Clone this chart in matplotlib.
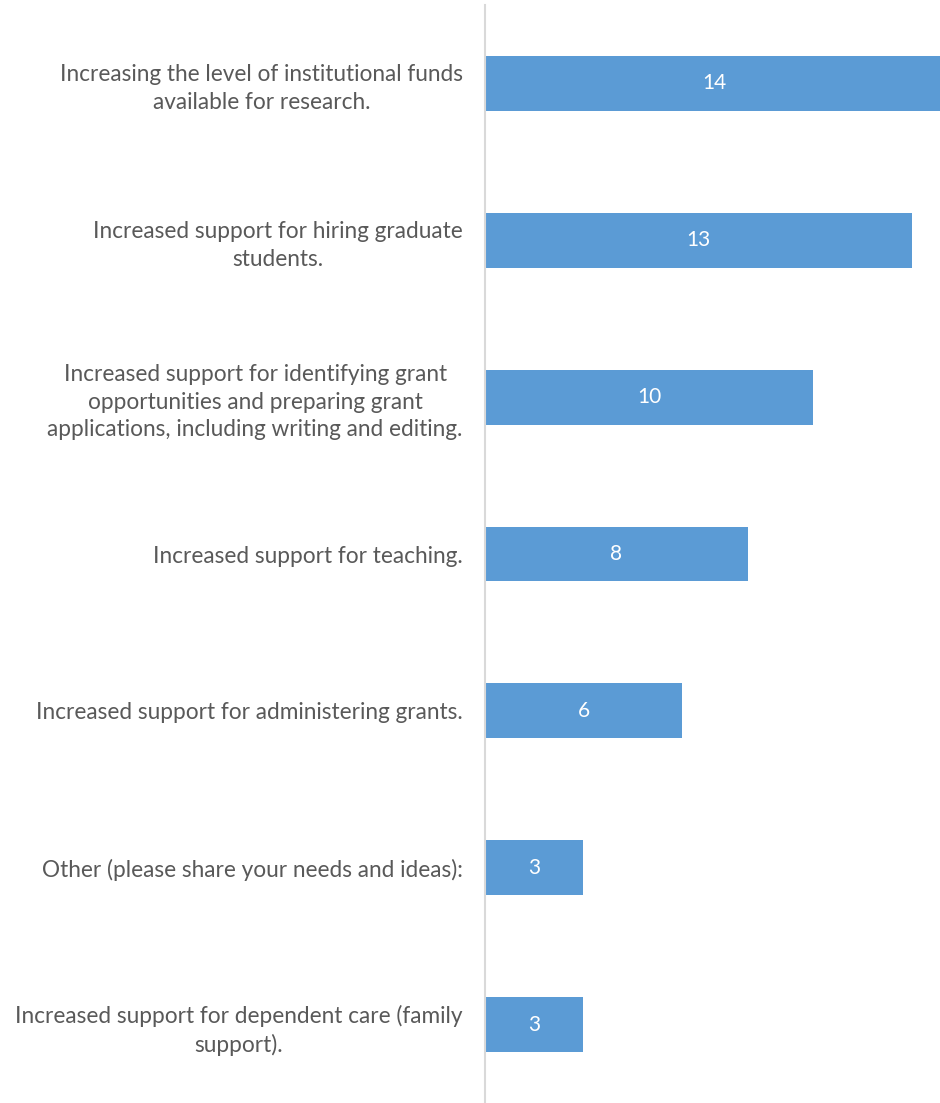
import matplotlib
matplotlib.use("Agg")
import matplotlib.pyplot as plt

categories = [
    "Increasing the level of institutional funds\navailable for research.",
    "Increased support for hiring graduate\nstudents.",
    "Increased support for identifying grant\nopportunities and preparing grant\napplications, including writing and editing.",
    "Increased support for teaching.",
    "Increased support for administering grants.",
    "Other (please share your needs and ideas):",
    "Increased support for dependent care (family\nsupport).",
]
values = [14, 13, 10, 8, 6, 3, 3]

plt.rcParams['font.family'] = ['Lato', 'DejaVu Sans']

W, H = 940, 1103
fig = plt.figure(figsize=(W / 100, H / 100), dpi=100)
ax = fig.add_axes([485 / W, 0, 1 - 485 / W, 1 - 5 / H])

ypos = list(range(len(categories)))
bars = ax.barh(ypos, values, height=0.35, color='#5B9BD5', zorder=2)
ax.set_ylim(len(categories) - 0.5, -0.5)
ax.set_xlim(0, 13.86)

for b, v in zip(bars, values):
    ax.text(v / 2, b.get_y() + b.get_height() / 2, str(v), ha='center', va='center',
            color='white', fontsize=15, clip_on=False)

ax.set_yticks(ypos)
ax.set_yticklabels(categories, fontsize=16.3, color='#595959', multialignment='center',
                   linespacing=1.38)
ax.tick_params(axis='y', length=0, pad=16)
ax.set_xticks([])
for s in ['top', 'right', 'bottom']:
    ax.spines[s].set_visible(False)
ax.spines['left'].set_color('#D9D9D9')
ax.spines['left'].set_linewidth(1.5)

fig.savefig('out.png', dpi=100)
